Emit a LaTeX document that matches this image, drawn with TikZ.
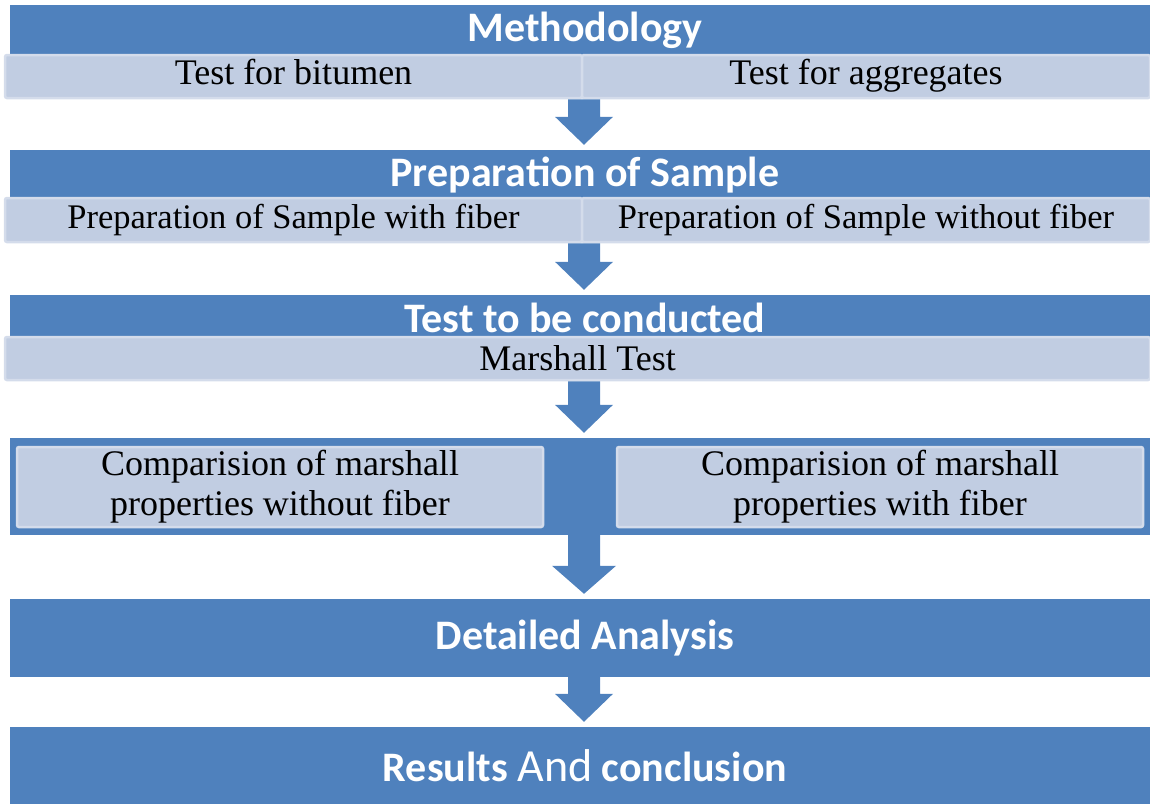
\documentclass[tikz,border=0pt]{standalone}
\usepackage{fontspec}
\setmainfont{Liberation Serif}
\newfontfamily\headfont{Carlito}
\usetikzlibrary{calc}
\definecolor{barblue}{RGB}{79,129,189}
\definecolor{barlight}{RGB}{193,205,226}
\definecolor{barrim}{RGB}{212,220,235}

\newcommand\blockarrow[3]{%
  \fill[barblue] let \p0=(axis), \p1=(#1.south), \p2=(#2.north) in
    (\x0-16pt,\y1) -- (\x0+16pt,\y1) -- (\x0+16pt,\y2+33pt) -- (\x0+#3pt,\y2+33pt)
    -- (\x0,\y2+5pt) -- (\x0-#3pt,\y2+33pt) -- (\x0-16pt,\y2+33pt) -- cycle;}

\begin{document}
\begin{tikzpicture}[x=1pt,y=-1pt,
  bar/.style={fill=barblue,inner sep=0pt,minimum width=1150pt,text=white,
    font=\headfont\bfseries\fontsize{42}{42}\selectfont},
  sub/.style={fill=barlight,draw=barrim,line width=2.5pt,rounded corners=2pt,inner sep=0pt,
    minimum height=43pt,font=\fontsize{36}{40}\selectfont,align=center}]
  \useasboundingbox (0,0) rectangle (1150,804);
  \coordinate (axis) at (584,0);

  \node[bar,minimum height=50pt] (meth) at (585,30) {Methodology};
  \node[sub,minimum width=577pt] (bitumen) at (293.5,76.5) {\strut Test for bitumen};
  \node[sub,minimum width=568pt] (aggr) at (866,76.5) {\strut Test for aggregates};

  \node[bar,minimum height=50pt] (prep) at (585,175) {Preparation of Sample};
  \node[sub,minimum width=577pt,minimum height=44pt,font=\fontsize{34.5}{40}\selectfont] (withfib) at (293.5,220) {Preparation of Sample with fiber};
  \node[sub,minimum width=568pt,minimum height=44pt,font=\fontsize{34.5}{40}\selectfont] (nofib) at (866,220) {Preparation of Sample without fiber};

  \node[bar,minimum height=45pt] (tests) at (585,317.5) {Test to be conducted};
  \node[sub,minimum width=1145pt] (marshall) at (577.5,358.5) {Marshall Test};

  \node[bar,minimum height=97pt] (compare) at (585,486.5) {};
  \node[sub,minimum width=526pt,minimum height=80pt] (cmpno) at (280,487)
    {Comparision of marshall\\properties without fiber};
  \node[sub,minimum width=526pt,minimum height=80pt] (cmpwith) at (880,487)
    {Comparision of marshall\\properties with fiber};

  \node[bar,minimum height=78pt] (analysis) at (585,638) {Detailed Analysis};
  \node[bar,minimum height=77pt] (results) at (585,765.5)
    {Results {\mdseries\fontsize{46}{46}\selectfont And} conclusion};

  \blockarrow{bitumen}{prep}{29}
  \blockarrow{withfib}{tests}{29}
  \blockarrow{marshall}{compare}{29}
  \blockarrow{compare}{analysis}{32}
  \blockarrow{analysis}{results}{29}
\end{tikzpicture}
\end{document}
